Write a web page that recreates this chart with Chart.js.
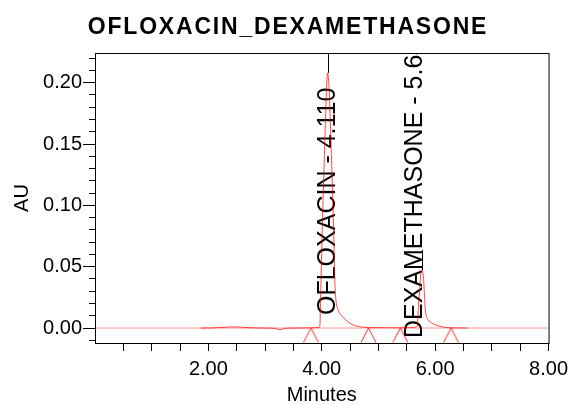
<!DOCTYPE html>
<html><head><meta charset="utf-8">
<script src="https://cdn.jsdelivr.net/npm/chart.js@4/dist/chart.umd.min.js"></script>
<style>html,body{margin:0;padding:0;background:#fff}#wrap{width:574px;height:405px;position:relative}</style>
</head><body><div id="wrap"><canvas id="c"></canvas></div>
<script>
// ---- data ----
const chartTitle = 'OFLOXACIN_DEXAMETHASONE';
const xAxisTitle = 'Minutes';
const yAxisTitle = 'AU';
const xMin = 0, xMax = 8;
const yMin = -0.0122, yMax = 0.2242;
const xTickStep = 0.5;
const xLabelStep = 2;
const yMajorTicks = [0.00, 0.05, 0.10, 0.15, 0.20];
const yMinorStep = 0.01;

const signalTime = [1.87, 2.05, 2.2, 2.35, 2.45, 2.55, 2.7, 2.85, 3.0, 3.15, 3.22, 3.27, 3.32, 3.38, 3.5, 3.7, 3.9,
  3.955, 3.967, 3.978, 3.987, 4.008, 4.034, 4.060, 4.083, 4.104, 4.130, 4.156, 4.183, 4.209, 4.230, 4.250, 4.290, 4.330, 4.375, 4.45, 4.55, 4.65, 4.78,
  5.0, 5.3, 5.55, 5.66, 5.688, 5.705, 5.728, 5.746, 5.763, 5.793, 5.81, 5.822, 5.84, 5.88, 5.95, 6.068, 6.2, 6.4, 6.57];
const signalAU = [0, 0.0001, 0.0004, 0.0008, 0.0009, 0.0008, 0.0003, 0.0001, 0, -0.0002, -0.0010, -0.0014, -0.0007, -0.0001, 0, 0.0001, 0.0003,
  0.0005, 0.002, 0.023, 0.039, 0.080, 0.121, 0.161, 0.194, 0.208, 0.194, 0.161, 0.121, 0.080, 0.039, 0.0228, 0.0145, 0.011, 0.0088, 0.0055, 0.0026, 0.0012, 0.0005,
  0.0003, 0.0002, 0.0003, 0.0008, 0.0024, 0.0174, 0.031, 0.0446, 0.0473, 0.0418, 0.0285, 0.0174, 0.0106, 0.0065, 0.0038, 0.0016, 0.0004, 0.0001, 0];

const zeroLineTime = [0, 8];
const zeroLineAU = [0, 0];

const markerTimes = [3.81, 4.825, 5.385, 6.28];

const peakNames = ['OFLOXACIN', 'DEXAMETHASONE'];
const peakRT = ['4.110', '5.640'];
const peakApexTime = [4.104, 5.763];
const peakApexAU = [0.208, 0.0473];
const labelTime = [4.11, 5.64];
const labelStartAU = [0.0106, -0.0082];

// ---- rendering ----
Chart.defaults.font.family = '"Liberation Sans", Arial, sans-serif';
Chart.defaults.color = '#000';

const tri = document.createElement('canvas');
tri.width = 17; tri.height = 30;
(function(){
  const c = tri.getContext('2d');
  c.strokeStyle = 'rgba(255,0,0,0.85)'; c.lineWidth = 1;
  c.beginPath(); c.moveTo(1, 29.5); c.lineTo(8.5, 15); c.lineTo(16, 29.5); c.stroke();
})();

const titlePlugin = {
  id: 'ttl',
  afterDraw(chart) {
    const ctx = chart.ctx;
    ctx.save();
    ctx.font = 'bold 23px "Liberation Sans", Arial, sans-serif';
    ctx.letterSpacing = '1.8px';
    ctx.textAlign = 'center';
    ctx.textBaseline = 'alphabetic';
    ctx.fillStyle = '#000';
    ctx.fillText(chartTitle, chart.width / 2 + 1, 33.5);
    ctx.restore();
  }
};

const framePlugin = {
  id: 'frame',
  afterDraw(chart) {
    const {ctx, chartArea: a} = chart;
    ctx.save();
    ctx.strokeStyle = '#000'; ctx.lineWidth = 1;
    ctx.strokeRect(a.left + 0.5, a.top + 0.5, a.right - a.left, a.bottom - a.top);
    ctx.restore();
  }
};

const peakLabelPlugin = {
  id: 'peaklabels',
  beforeDatasetsDraw(chart) {
    const {ctx, chartArea: a, scales: {x, y}} = chart;
    ctx.save();
    ctx.beginPath(); ctx.rect(a.left, a.top, a.right - a.left, a.bottom - a.top); ctx.clip();
    ctx.strokeStyle = '#000'; ctx.lineWidth = 1;
    peakNames.forEach((n, i) => {
      const px = Math.round(x.getPixelForValue(peakApexTime[i])) + 0.5;
      const py = y.getPixelForValue(peakApexAU[i]);
      ctx.beginPath(); ctx.moveTo(px, py); ctx.lineTo(px, py - 20); ctx.stroke();
    });
    ctx.font = '25px "Liberation Sans", Arial, sans-serif';
    ctx.fillStyle = '#000'; ctx.textAlign = 'left'; ctx.textBaseline = 'middle';
    peakNames.forEach((n, i) => {
      const px = x.getPixelForValue(labelTime[i]);
      const py = y.getPixelForValue(labelStartAU[i]);
      ctx.save(); ctx.translate(px, py); ctx.rotate(-Math.PI / 2);
      ctx.fillText(n + ' - ' + peakRT[i], 0, 0);
      ctx.restore();
    });
    ctx.restore();
  }
};

new Chart(document.getElementById('c'), {
  type: 'scatter',
  data: {
    datasets: [
      { data: zeroLineTime.map((t, i) => ({x: t, y: zeroLineAU[i]})), showLine: true,
        borderColor: 'rgba(255,0,0,0.42)', borderWidth: 1, pointRadius: 0 },
      { data: signalTime.map((t, i) => ({x: t, y: signalAU[i]})), showLine: true,
        borderColor: 'rgba(255,0,0,0.72)', borderWidth: 1, pointRadius: 0, cubicInterpolationMode: 'monotone' },
      { data: markerTimes.map(t => ({x: t, y: 0})), showLine: false,
        pointStyle: tri, pointRadius: 8, clip: false }
    ]
  },
  options: {
    responsive: true, maintainAspectRatio: false, animation: false, events: [],
    layout: { padding: { top: 53, right: 22, left: 0, bottom: 0 } },
    plugins: { legend: { display: false }, tooltip: { enabled: false }, title: { display: false } },
    scales: {
      x: {
        type: 'linear', position: 'bottom', min: xMin, max: xMax,
        afterFit(s) { s.height = 62; },
        ticks: {
          stepSize: xTickStep, autoSkip: false, maxRotation: 0, padding: 6,
          font: { size: 20 }, color: '#000',
          callback: v => (v > 0 && Math.abs(v % xLabelStep) < 1e-9) ? v.toFixed(2) : ''
        },
        grid: { drawOnChartArea: false, drawTicks: true, tickLength: 8,
          tickColor: c => (c.tick && c.tick.value === 0) ? 'rgba(0,0,0,0)' : '#000' },
        border: { display: false },
        title: { display: true, text: xAxisTitle, font: { size: 20 }, color: '#000', padding: { top: 0, bottom: -2 } }
      },
      y: {
        type: 'linear', position: 'left', min: yMin, max: yMax, weight: 1,
        afterFit(s) { s.width = 95; },
        afterBuildTicks(s) { s.ticks = yMajorTicks.map(v => ({value: v})); },
        ticks: { padding: 1, font: { size: 20 }, color: '#000', callback: v => Number(v).toFixed(2) },
        grid: { drawOnChartArea: false, drawTicks: true, tickLength: 12, tickColor: '#000' },
        border: { display: false },
        title: { display: true, text: yAxisTitle, font: { size: 20 }, color: '#000', padding: { top: 10, bottom: 0 } }
      },
      yMinor: {
        type: 'linear', position: 'left', min: yMin, max: yMax, weight: 0,
        afterFit(s) { s.width = 0; },
        ticks: { display: false, stepSize: yMinorStep, includeBounds: false },
        grid: { drawOnChartArea: false, drawTicks: true, tickLength: 6, tickColor: '#000' },
        border: { display: false }
      }
    }
  },
  plugins: [titlePlugin, framePlugin, peakLabelPlugin]
});
</script>
</body></html>
